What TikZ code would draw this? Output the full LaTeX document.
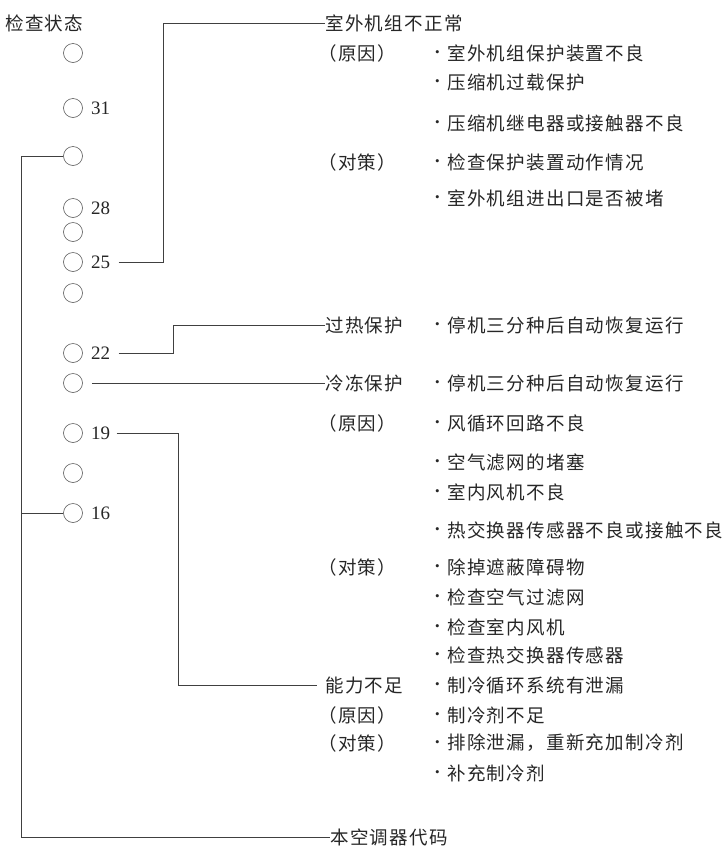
\documentclass[tikz,border=0pt]{standalone}
\usepackage{fontspec}
\newfontfamily\cjk[LetterSpace=7]{Noto Sans CJK SC}
\newfontfamily\numfont{Liberation Serif}
\usetikzlibrary{positioning}

\begin{document}
\begin{tikzpicture}[x=1pt,y=-1pt, line width=0.8pt, draw=black!75,
  every node/.style={font=\cjk\fontsize{18.5}{20}\selectfont, text=black!85, inner sep=0pt},
  dot/.style={circle, draw=black!65, line width=0.6pt, minimum size=19pt},
  num/.style={font=\numfont\fontsize{19}{20}\selectfont},
  head/.style={anchor=west},
  item/.style={anchor=west, label={[inner sep=0pt, xshift=-7pt, yshift=-1pt, font=\numfont\fontsize{13}{13}\selectfont]left:\textbullet}}]
\useasboundingbox (0,0) rectangle (725,847);

\node[anchor=west] (title) at (5,23) {检查状态};
% indicator lamps
\foreach \y [count=\i] in {53,108,156,208,232,262,293,353,383,433,473,513}
  \node[dot] (c\i) at (73,\y) {};
\node[num, right=8pt of c2] (n31) {31};
\node[num, right=8pt of c4] (n28) {28};
\node[num, right=8pt of c6] (n25) {25};
\node[num, right=8pt of c8] (n22) {22};
\node[num, right=8pt of c10] (n19) {19};
\node[num, right=8pt of c12] (n16) {16};

% faults
\node[head] (outdoor) at (325,23) {室外机组不正常};
\node[head] (overheat) at (325,325) {过热保护};
\node[head] (freeze) at (325,383) {冷冻保护};
\node[head] (capacity) at (325,685) {能力不足};
\node[head] (code) at (330,837) {本空调器代码};

\node[head] (why1) at (318,53) {（原因）};
\node[head] (fix1) at (318,162) {（对策）};
\node[head] (why2) at (318,423) {（原因）};
\node[head] (fix2) at (318,567) {（对策）};
\node[head] (why3) at (318,715) {（原因）};
\node[head] (fix3) at (318,743) {（对策）};

\foreach \y/\t [count=\i] in {53/室外机组保护装置不良, 82/压缩机过载保护,
    123/压缩机继电器或接触器不良, 162/检查保护装置动作情况, 198/室外机组进出口是否被堵,
    325/停机三分种后自动恢复运行, 383/停机三分种后自动恢复运行,
    423/风循环回路不良, 462/空气滤网的堵塞, 492/室内风机不良,
    530/热交换器传感器不良或接触不良, 567/除掉遮蔽障碍物, 597/检查空气过滤网,
    627/检查室内风机, 655/检查热交换器传感器, 685/制冷循环系统有泄漏,
    715/制冷剂不足, 743/{排除泄漏，重新充加制冷剂}, 773/补充制冷剂}
  \node[item] (a\i) at (447,\y) {\t};

\coordinate (lb) at (21,837);
\coordinate (k25) at (163,23);
\coordinate (k22) at (173,325);
\coordinate (k19) at (178,685);

\draw (c3.west) -| (lb) -- (code.west);
\draw (c12.west) -- (c12.west -| lb);
\draw[shorten <=8pt] (n25.east) -| (k25) -- (outdoor.west);
\draw[shorten <=8pt] (n22.east) -| (k22) -- (overheat.west);
\draw[shorten <=9pt] (c9.east) -- (freeze.west);
\draw[shorten <=6pt, shorten >=8pt] (n19.east) -| (k19) -- (capacity.west);
\end{tikzpicture}
\end{document}
